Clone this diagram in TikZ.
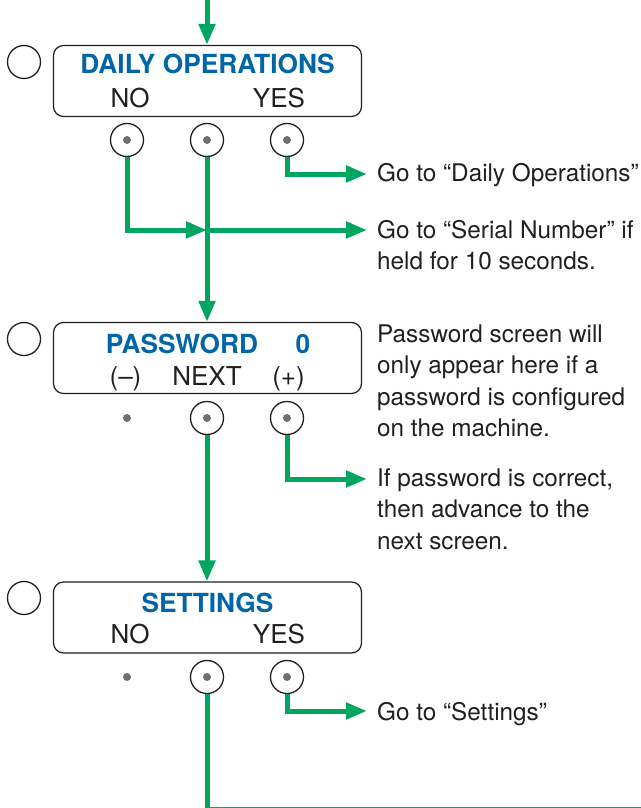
\documentclass[tikz,border=0pt]{standalone}
\usepackage{fontspec}
\setmainfont{TeX Gyre Heros}
\usetikzlibrary{arrows.meta}
\definecolor{flowgreen}{RGB}{0,166,96}
\definecolor{screenblue}{RGB}{0,102,168}
\definecolor{dotgrey}{RGB}{110,110,115}
\definecolor{ink}{RGB}{35,31,32}
\begin{document}
\begin{tikzpicture}[
            x=1pt, y=-1pt,
            screen/.style={draw=ink, line width=1.2pt, rounded corners=10pt, minimum width=308pt, minimum height=71pt},
            lamp/.style={circle, draw=ink, line width=1.3pt, minimum size=33pt, inner sep=0pt},
            btn/.style={lamp, fill=white, path picture={\fill[dotgrey] (path picture bounding box.center) circle (4pt);}},
            dot/.style={circle, fill=dotgrey, minimum size=8pt, inner sep=0pt},
            title/.style={font=\fontsize{26.3}{30}\selectfont\bfseries, text=screenblue, inner sep=0pt, anchor=base},
            key/.style={font=\fontsize{26}{30}\selectfont, text=ink, inner sep=0pt, anchor=base},
            note/.style={font=\fontsize{24.3}{31.5}\selectfont, text=ink, inner sep=0pt, anchor=base west},
            flow/.style={draw=flowgreen, line width=5pt, -{Triangle[length=21pt,width=16pt]}},
            flowline/.style={draw=flowgreen, line width=5pt}
        ]
        \useasboundingbox (0,0) rectangle (640,808);

        \node[screen] (s1) at (207.5,81) {};
        \node[lamp] (l1) at (24,62) {};
        \node[title] (s1t) at (207.5,74) {DAILY OPERATIONS};
        \node[key] (s1a) at (130,107) {NO};
        \node[key] (s1c) at (279,107) {YES};
        \node[btn] (b1a) at (127,140) {};
        \node[btn] (b1b) at (207,140) {};
        \node[btn] (b1c) at (287,140) {};

        \node[screen] (s2) at (207.5,358) {};
        \node[lamp] (l2) at (24,339) {};
        \node[title] (s2t) at (182,353) {PASSWORD};
        \node[title] (s2v) at (303,353) {0};
        \node[key] (s2a) at (125.5,385) {(–)};
        \node[key] (s2b) at (207,385) {NEXT};
        \node[key] (s2c) at (288.5,385) {(+)};
        \node[dot] (b2a) at (127,418) {};
        \node[btn] (b2b) at (207,418) {};
        \node[btn] (b2c) at (287,418) {};

        \node[screen] (s3) at (207.5,617.5) {};
        \node[lamp] (l3) at (24,598) {};
        \node[title] (s3t) at (207.5,612) {SETTINGS};
        \node[key] (s3a) at (130,643) {NO};
        \node[key] (s3c) at (279,643) {YES};
        \node[dot] (b3a) at (127,677) {};
        \node[btn] (b3b) at (207,677) {};
        \node[btn] (b3c) at (287,677) {};

        \coordinate (entry) at (207,-2);
        \coordinate (g1) at (367,174);
        \coordinate (g2) at (367,230);
        \coordinate (g3) at (367,479);
        \coordinate (g4) at (367,711);
        \coordinate (exit) at (660,809);

        \node[note] (n1) at ([shift={(10pt,-7pt)}]g1) {Go to “Daily Operations”};
        \node[note] (n2) at ([shift={(10pt,-8pt)}]g2) {\begin{tabular}[t]{@{}l@{}}Go to “Serial Number” if\\held for 10 seconds.\end{tabular}};
        \node[note] (n3) at (377,342) {\begin{tabular}[t]{@{}l@{}}Password screen will\\only appear here if a\\password is configured\\on the machine.\end{tabular}};
        \node[note] (n4) at ([shift={(10pt,-7pt)}]g3) {\begin{tabular}[t]{@{}l@{}}If password is correct,\\then advance to the\\next screen.\end{tabular}};
        \node[note] (n5) at ([shift={(10pt,-9pt)}]g4) {Go to “Settings”};

        \draw[flow] (entry) -- (entry |- s1.north);
        \draw[flow] (b1c.south) |- (g1);
        \draw[flow] (b1a.south) |- (b1b |- g2);
        \draw[flow] (b1b |- g2) -- (g2);
        \draw[flow] (b1b.south) -- (b1b.south |- s2.north);
        \draw[flow] (b2c.south) |- (g3);
        \draw[flow] (b2b.south) -- (b2b.south |- s3.north);
        \draw[flow] (b3c.south) |- (g4);
        \draw[flowline] (b3b.south) |- (exit);
    \end{tikzpicture}
\end{document}
